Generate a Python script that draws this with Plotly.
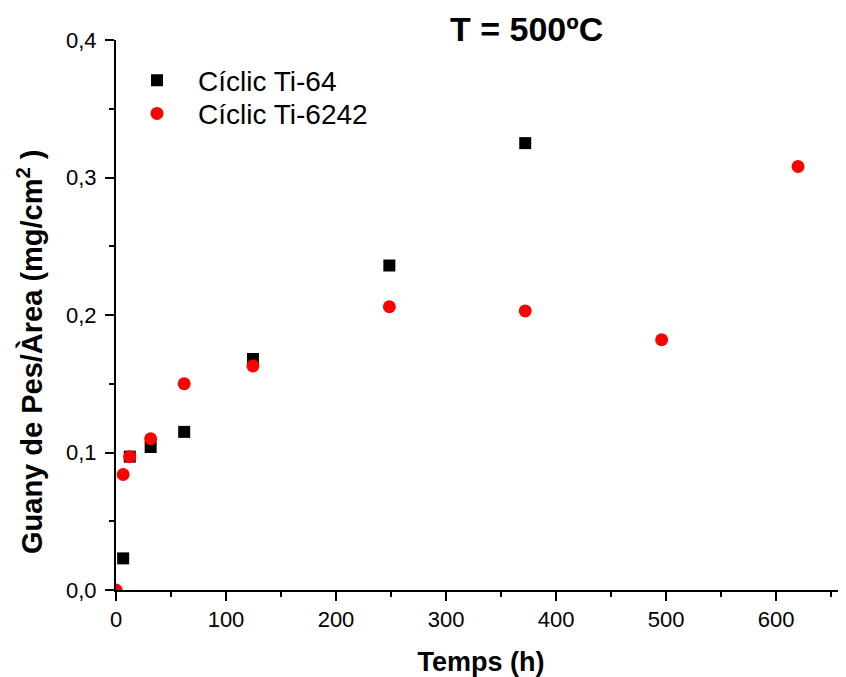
import plotly.graph_objects as go

# Data
time_ti64 = [6.5, 12.5, 31.5, 62, 124.5, 248.5, 372]
gain_ti64 = [0.023, 0.097, 0.104, 0.115, 0.168, 0.236, 0.325]

time_ti6242 = [0, 6.5, 12.5, 31.5, 62, 124.5, 248.5, 372, 496, 620]
gain_ti6242 = [0.0, 0.084, 0.097, 0.110, 0.150, 0.163, 0.206, 0.203, 0.182, 0.308]

x_ticks = [0, 100, 200, 300, 400, 500, 600]
y_ticks = [0.0, 0.1, 0.2, 0.3, 0.4]

FONT = "Arial, 'Liberation Sans', sans-serif"

fig = go.Figure()
fig.add_trace(go.Scatter(
    x=time_ti64, y=gain_ti64, mode="markers", name="Cíclic Ti-64",
    marker=dict(symbol="square", size=12, color="#000000"),
    legend="legend",
))
fig.add_trace(go.Scatter(
    x=time_ti6242, y=gain_ti6242, mode="markers", name="Cíclic Ti-6242",
    marker=dict(symbol="circle", size=13, color="#FF0000"),
    legend="legend2",
))

axis_common = dict(
    showline=True, linecolor="black", linewidth=2,
    ticks="outside", ticklen=9, tickwidth=2, tickcolor="black",
    showgrid=False, zeroline=False, mirror=False,
    tickfont=dict(family=FONT, size=22, color="black"),
)

fig.update_xaxes(
    range=[0, 663.6], tickvals=x_ticks, ticktext=[str(v) for v in x_ticks],
    minor=dict(ticks="outside", ticklen=5, tickwidth=2, tickcolor="black", dtick=50, tick0=0),
    title=dict(text="<b>Temps (h)</b>", font=dict(family=FONT, size=27, color="black"), standoff=22),
    **axis_common,
)
fig.update_yaxes(
    range=[0, 0.4], tickvals=y_ticks, tickformat=".1f", ticklabelstandoff=4,
    minor=dict(ticks="outside", ticklen=5, tickwidth=2, tickcolor="black", dtick=0.05, tick0=0),
    **axis_common,
)

fig.add_annotation(
    text="<b>Guany de Pes/Àrea (mg/cm<sup>2</sup> )</b>",
    xref="paper", yref="paper", x=-0.1178, y=0.4327,
    xanchor="center", yanchor="middle", textangle=-90, showarrow=False,
    font=dict(family=FONT, size=29, color="black"),
)
fig.add_annotation(
    text="<b>T = 500ºC</b>",
    xref="paper", yref="paper", x=0.562, y=1.0209,
    xanchor="center", yanchor="middle", showarrow=False,
    font=dict(family=FONT, size=34, color="black"),
)

legend_common = dict(
    xanchor="left", yanchor="top",
    bgcolor="rgba(0,0,0,0)", borderwidth=0,
    font=dict(family=FONT, size=28, color="black"),
    itemwidth=72,
)

fig.update_layout(
    width=838, height=669,
    margin=dict(l=108, r=0, t=32, b=87),
    paper_bgcolor="white", plot_bgcolor="white",
    separators=",.",
    showlegend=True,
    legend=dict(x=0.0, y=0.9718, **legend_common),
    legend2=dict(x=0.0, y=0.9114, **legend_common),
)

fig.write_html("out.html")
